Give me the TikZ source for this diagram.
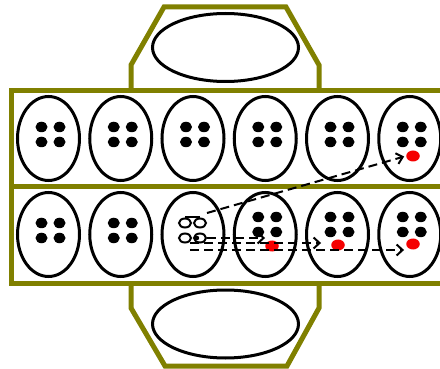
\documentclass[tikz,border=0pt]{standalone}
\usepackage{tikz}
\usetikzlibrary{positioning,arrows.meta,shapes.geometric}
\definecolor{hullolive}{RGB}{128,128,0}
\definecolor{hotred}{RGB}{245,0,0}

\begin{document}
\begin{tikzpicture}[x=1pt,y=-1pt,
  hull/.style={draw=hullolive,line width=5pt,line join=miter},
  cell/.style={draw,ellipse,line width=3pt,minimum width=62pt,minimum height=84pt,inner sep=0pt},
  hatch/.style={draw,ellipse,line width=3pt,minimum width=146pt,minimum height=68pt,inner sep=0pt},
  pip/.style={fill,ellipse,minimum width=12pt,minimum height=10.5pt,inner sep=0pt},
  hot/.style={fill=hotred,ellipse,minimum width=13.5pt,minimum height=11pt,inner sep=0pt},
  link/.style={draw,ellipse,line width=2pt,minimum width=12pt,minimum height=9pt,inner sep=0pt},
  jump/.style={line width=2pt,dash pattern=on 9pt off 5pt,-{Straight Barb[length=6pt,width=11pt]}}]
\useasboundingbox (0,0) rectangle (440,369);
\clip (0,0) rectangle (440,369);
% hull outline
\draw[hull] (11,91) rectangle (450,283);
\draw[hull] (11,186.5) -- (450,186.5);
\draw[hull] (131,91) -- (131,65) -- (164,7) -- (286,7) -- (319,65) -- (319,91);
\draw[hull] (131,283) -- (131,308) -- (165,366) -- (287,366) -- (319,308) -- (319,283);
\node[hatch] (tophatch) at (225.5,47.5) {};
\node[hatch] (bothatch) at (225.5,324) {};
% cells
\foreach \cx [count=\i] in {48.5,120.75,193,265.25,337.5,409.75} {
  \node[cell] (t\i) at (\cx,138.5) {};
  \node[cell] (b\i) at (\cx,234.5) {};
  \foreach \dx [count=\k] in {-9,9} {
    \node[pip] (tp\i-\k) at ([xshift=\dx+2]\cx,127) {};
    \node[pip] (tq\i-\k) at ([xshift=\dx+2]\cx,142) {};
  }
}
\foreach \cx/\up [count=\i] in {48.5/223,120.75/223,265.25/217,337.5/217,409.75/217} {
  \foreach \dx [count=\k] in {-9,9} {
    \node[pip] (bp\i-\k) at ([xshift=\dx+2]\cx,\up) {};
    \node[pip] (bq\i-\k) at ([xshift=\dx+2]\cx,\up+15) {};
  }
}
% links in the middle cell
\node[link] (la) at (185,223) {};
\node[link] (lb) at (200,223) {};
\node[link] (lc) at (185,238) {};
\node[link] (ld) at (200,238) {};
\draw[line width=2pt] (la.north) -- (lb.north);
\fill (ld.west) ++(4,0) circle (2.2pt);
% hot spots
\node[hot] (rt) at (413,156) {};
\node[hot] (r4) at (272,246) {};
\node[hot] (r5) at (338,245) {};
\node[hot] (r6) at (413,244) {};
\coordinate (go7) at (207,213);
\coordinate (go5) at (190,243);
\coordinate (go6) at (190,250);
\draw[jump,shorten >=2pt] (go7) -- (rt.west);
\draw[jump] (ld.east) -- (ld.east -| r4.west);
\draw[jump,shorten >=10pt] (go5) -- (go5 -| r5.west);
\draw[jump,shorten >=2pt] (go6) -- (go6 -| r6.west);
\end{tikzpicture}
\end{document}
